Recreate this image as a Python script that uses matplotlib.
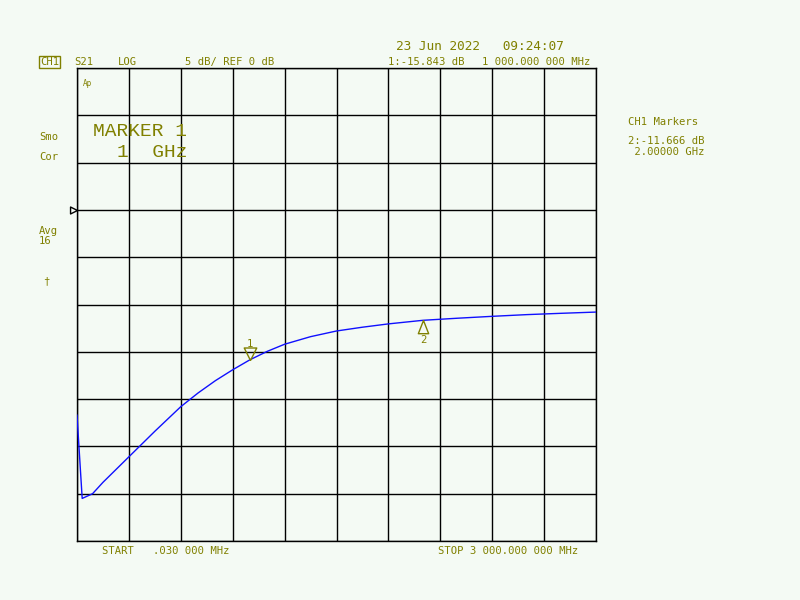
import matplotlib.pyplot as plt

# S21 trace (GHz, dB)
freq_ghz = [0.0, 0.03, 0.09, 0.15, 0.3, 0.45, 0.6, 0.7, 0.8, 0.9, 1.0, 1.1, 1.2, 1.35,
            1.5, 1.65, 1.8, 2.0, 2.2, 2.4, 2.6, 2.8, 3.0]
s21_db = [-21.7, -30.5, -30.0, -28.8, -26.1, -23.4, -20.8, -19.35, -18.05, -16.9, -15.84, -14.95, -14.2, -13.4,
          -12.8, -12.4, -12.05, -11.67, -11.45, -11.25, -11.07, -10.93, -10.8]

marker_freq = [1.0, 2.0]
marker_db = [-15.843, -11.666]
marker_names = ["1", "2"]

olive = '#808000'
bg = '#f4faf4'
mono = 'DejaVu Sans Mono'

fig = plt.figure(figsize=(8, 6), dpi=100)
fig.patch.set_facecolor(bg)
ax = fig.add_axes([77 / 800, 59 / 600, 519 / 800, 473 / 600])
ax.set_facecolor(bg)

ax.set_xlim(0, 3)
ax.set_ylim(-35, 15)
ax.set_xticks([i * 0.3 for i in range(11)])
ax.set_yticks([-35 + 5 * i for i in range(11)])
ax.tick_params(length=0, labelbottom=False, labelleft=False)
ax.grid(True, color='black', lw=1.0)
for sp in ax.spines.values():
    sp.set_color('black')
    sp.set_linewidth(1.0)

ax.plot(freq_ghz, s21_db, color='#1010ff', lw=1.0, zorder=3)

# markers: 1 points down onto the trace, 2 points up
down_tri = [(0, 0), (-0.5, 1), (0.5, 1), (0, 0)]
up_tri = [(0, 0), (-0.45, -1.15), (0.45, -1.15), (0, 0)]
ax.plot(marker_freq[0], marker_db[0], marker=down_tri, ms=18, mfc='none', mec=olive, mew=1.0, zorder=4)
ax.plot(marker_freq[1], marker_db[1], marker=up_tri, ms=19, mfc='none', mec=olive, mew=1.0, zorder=4)
ax.annotate(marker_names[0], (marker_freq[0], marker_db[0]), xytext=(0, 11), textcoords='offset points',
            ha='center', va='center', color=olive, family=mono, fontsize=7.6)
ax.annotate(marker_names[1], (marker_freq[1], marker_db[1]), xytext=(0, -14.4), textcoords='offset points',
            ha='center', va='center', color=olive, family=mono, fontsize=7.6)

# reference line pointer at 0 dB
ax.plot(0, 0, marker=[(0, 0), (-1, 0.5), (-1, -0.5), (0, 0)], ms=10, mfc='none', mec='black',
        mew=1.0, clip_on=False, zorder=5)


def put(x, y, s, size=7.6, family=mono, **kw):
    fig.text(x / 800, 1 - y / 600, s, ha='left', va='center', family=family,
             color=olive, fontsize=size, **kw)


put(396, 47, "23 Jun 2022   09:24:07", size=9.2)
put(40, 62, "CH1", bbox=dict(boxstyle='square,pad=0.12', fc='none', ec=olive, lw=1.0))
put(74, 62, "S21")
put(118, 62, "LOG")
put(185, 62, "5 dB/ REF 0 dB")
put(388, 62, "1:-15.843 dB")
put(482, 62, "1 000.000 000 MHz")

put(39, 137, "Smo")
put(39, 157, "Cor")
put(39, 231, "Avg")
put(39, 241, "16")
put(43, 281, "\u2020")
put(83, 84, "Ap", size=5.5)

put(93, 132, "MARKER 1", size=14, family='Liberation Mono')
put(117, 152, "1  GHz", size=14, family='Liberation Mono')

put(628, 122, "CH1 Markers")
put(628, 141, "2:-11.666 dB")
put(628, 152, " 2.00000 GHz")

put(102, 551, "START   .030 000 MHz")
put(438, 551, "STOP 3 000.000 000 MHz")

fig.savefig('out.png', dpi=100, facecolor=bg)
